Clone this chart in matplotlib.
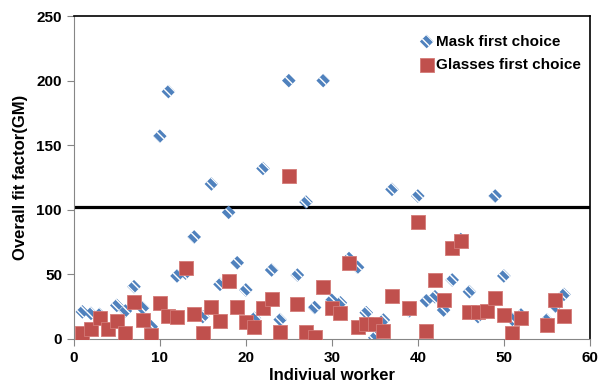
import matplotlib
matplotlib.use("Agg")
import matplotlib.pyplot as plt

# mask first choice (worker, fit factor)
mask_x = [1, 2, 3, 5, 6, 7, 8, 9, 10, 11, 12, 13, 14, 15, 16, 17, 18, 19, 20,
          21, 22, 23, 24, 25, 26, 27, 28, 29, 30, 31, 32, 33, 34, 35, 36, 37,
          39, 40, 41, 42, 43, 44, 45, 46, 47, 48, 49, 50, 51, 52, 55, 56, 57]
mask_y = [21, 19.8, 19, 26, 21.7, 40.5, 24, 9.5, 157, 191.5, 48.8, 51, 79, 17.3,
          120, 42.3, 98, 59, 38, 16, 132, 53.4, 15, 200, 49.5, 106, 24.4, 200,
          30, 28, 62.3, 55.5, 20.4, 1, 14.7, 115.8, 21.7, 110.7, 29.6, 32.7,
          22.4, 45.7, 77, 36.6, 17.3, 21, 110.7, 48.8, 15.2, 18.6, 14.7, 25.5,
          34.5]

# glasses first choice
glass_x = [1, 2, 3, 4, 5, 6, 7, 8, 9, 10, 11, 12, 13, 14, 15, 16, 17, 18, 19,
           20, 21, 22, 23, 24, 25, 26, 27, 28, 29, 30, 31, 32, 33, 34, 35, 36,
           37, 39, 40, 41, 42, 43, 44, 45, 46, 47, 48, 49, 50, 51, 52, 55, 56,
           57]
glass_y = [4.4, 7.7, 16, 7.7, 13.9, 4.4, 28.9, 14.7, 2.8, 28, 17.8, 17.3, 54.6,
           19, 4.4, 25, 13.9, 45, 25, 12.8, 9.5, 24.3, 31, 5.2, 126, 27, 5.6,
           1.8, 40, 24.3, 19.8, 58.5, 9.5, 11.6, 11.6, 6.4, 33.3, 24.3, 90.8,
           6.4, 46, 30, 70.7, 75.8, 21, 21, 21.9, 32, 18.6, 4.9, 16, 10.8,
           30.2, 17.8]

ref_level = 102

plt.rcParams["font.family"] = "Liberation Sans"
plt.rcParams["font.weight"] = "bold"
plt.rcParams["hatch.linewidth"] = 1.0

fig = plt.figure(figsize=(6, 3.91), dpi=100)
ax = fig.add_axes([0.123, 0.133, 0.86, 0.826])

# blue diamonds with white stripes
ax.scatter(mask_x, mask_y, marker="D", s=48, facecolor="#4f81bd",
           edgecolor="white", linewidth=0, hatch="\\" * 4, zorder=3,
           label="Mask first choice")
ax.scatter(glass_x, glass_y, marker="s", s=105, facecolor="#c0504d",
           edgecolor="#d47a77", linewidth=0.6, zorder=4,
           label="Glasses first choice")
ax.axhline(ref_level, color="black", linewidth=2.3, zorder=2)

ax.set_xlim(0, 60)
ax.set_ylim(0, 250)
ax.set_xticks(range(0, 61, 10))
ax.set_yticks(range(0, 251, 50))
ax.tick_params(direction="out", length=5, color="#868686", labelsize=11)
for s in ["left", "bottom"]:
    ax.spines[s].set_color("#868686")
ax.spines["top"].set_linewidth(1.2)
ax.spines["right"].set_linewidth(1.2)

ax.set_xlabel("Indiviual worker", fontsize=12, fontweight="bold", labelpad=2)
ax.set_ylabel("Overall fit factor(GM)", fontsize=12, fontweight="bold", labelpad=6)

ax.legend(loc="upper right", frameon=False, fontsize=11, handletextpad=0.1,
          handlelength=1.0, borderaxespad=0.6, labelspacing=0.6,
          bbox_to_anchor=(1.012, 0.99))

fig.savefig("out.png", dpi=100)
